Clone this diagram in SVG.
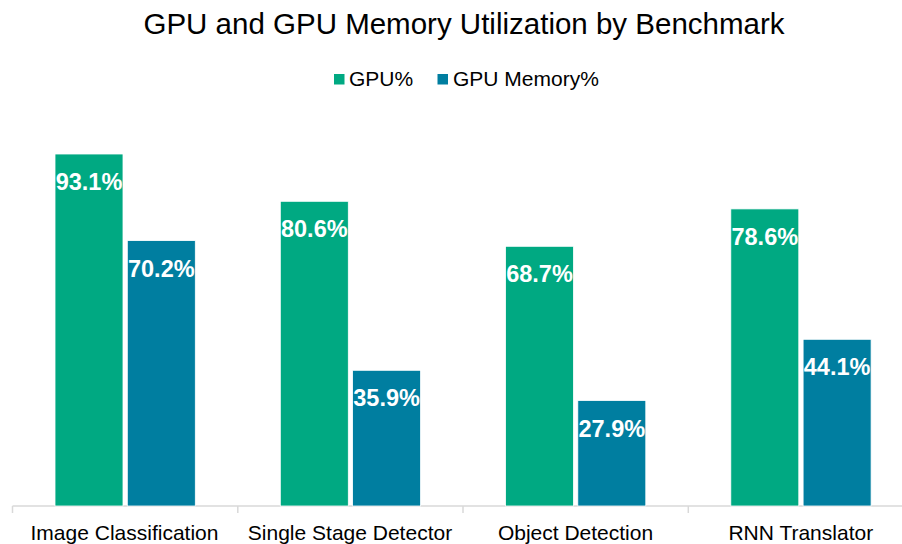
<svg xmlns="http://www.w3.org/2000/svg" width="902" height="544" viewBox="0 0 902 544">
<style>
text{font-family:"Liberation Sans",Arial,sans-serif}
.title{font-size:29.5px;fill:#000}
.leg{font-size:21px;fill:#000}
.cat{font-size:21px;fill:#000;text-anchor:middle}
.val{font-size:23.5px;font-weight:bold;fill:#fff;text-anchor:middle}
.g{fill:#00a982;stroke:#fff;stroke-width:0.8}
.b{fill:#007ea0;stroke:#fff;stroke-width:0.8}
.ax{stroke:#d9d9d9;stroke-width:1.5;fill:none}
</style>
<rect width="902" height="544" fill="#fff"/>
<text class="title" x="464" y="33.5" text-anchor="middle">GPU and GPU Memory Utilization by Benchmark</text>
<g id="legend">
<rect x="334" y="74" width="10.5" height="10.5" fill="#00a982"/>
<text class="leg" x="349" y="86">GPU%</text>
<rect x="437.5" y="74" width="10.5" height="10.5" fill="#007ea0"/>
<text class="leg" x="453" y="86">GPU Memory%</text>
</g>
<g id="axis">
<path class="ax" d="M12.5 506H902M12.5 506V513M237.8 506V513M463 506V513M688.3 506V513"/>
</g>
<g id="image-classification">
<rect class="g" x="55" y="154" width="68" height="352"/>
<rect class="b" x="127.3" y="240.6" width="68" height="265.4"/>
<text class="val" x="89" y="190">93.1%</text>
<text class="val" x="161.3" y="276.5">70.2%</text>
<text class="cat" x="124.5" y="540">Image Classification</text>
</g>
<g id="single-stage-detector">
<rect class="g" x="280.3" y="201.3" width="68" height="304.7"/>
<rect class="b" x="352.6" y="370.3" width="68" height="135.7"/>
<text class="val" x="314.3" y="237">80.6%</text>
<text class="val" x="386.6" y="406">35.9%</text>
<text class="cat" x="350" y="540">Single Stage Detector</text>
</g>
<g id="object-detection">
<rect class="g" x="505.5" y="246.3" width="68" height="259.7"/>
<rect class="b" x="577.8" y="400.5" width="68" height="105.5"/>
<text class="val" x="539.5" y="282">68.7%</text>
<text class="val" x="611.8" y="436.5">27.9%</text>
<text class="cat" x="575.5" y="540">Object Detection</text>
</g>
<g id="rnn-translator">
<rect class="g" x="730.8" y="208.9" width="68" height="297.1"/>
<rect class="b" x="803.1" y="339.3" width="68" height="166.7"/>
<text class="val" x="764.8" y="244.5">78.6%</text>
<text class="val" x="837.1" y="375">44.1%</text>
<text class="cat" x="800.8" y="540">RNN Translator</text>
</g>
</svg>
